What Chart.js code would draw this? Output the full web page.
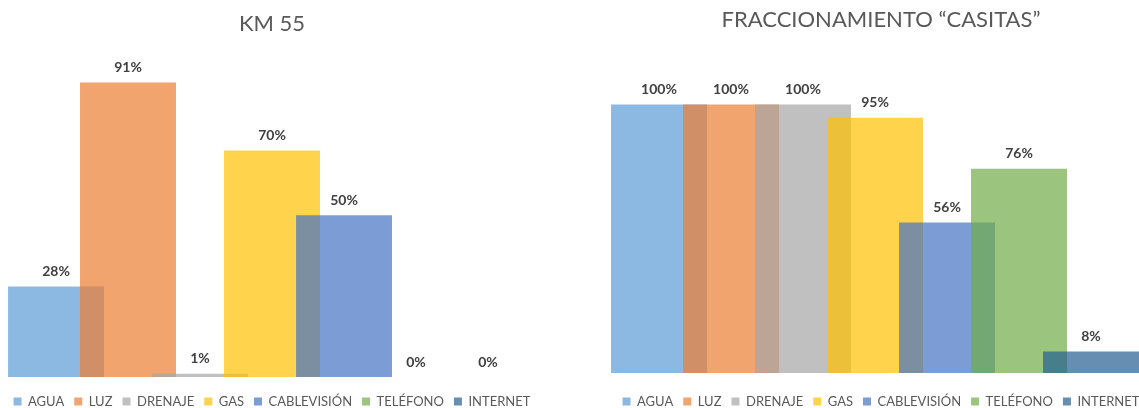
<!DOCTYPE html>
<html>
<head>
<meta charset="utf-8">
<script src="https://cdn.jsdelivr.net/npm/chart.js@4"></script>
<style>
  html, body { margin: 0; padding: 0; background: #fff; overflow: hidden; }
  body { width: 1139px; height: 408px; position: relative; }
  .box { position: absolute; top: 0; }
</style>
</head>
<body>
<div class="box" style="left:0px"><canvas id="kmChart" width="544" height="418"></canvas></div>
<div class="box" style="left:600px"><canvas id="casitasChart" width="562" height="418"></canvas></div>
<script>
var categories = ["AGUA", "LUZ", "DRENAJE", "GAS", "CABLEVISIÓN", "TELÉFONO", "INTERNET"];
var kmValues = [28, 91, 1, 70, 50, 0, 0];
var casitasValues = [100, 100, 100, 95, 56, 76, 8];
var colors = [
    "rgba(91,155,213,0.7)",
    "rgba(237,125,49,0.7)",
    "rgba(165,165,165,0.7)",
    "rgba(255,192,0,0.7)",
    "rgba(68,114,196,0.7)",
    "rgba(112,173,71,0.7)",
    "rgba(37,94,145,0.7)"
];

var fontFamily = "Lato, 'Liberation Sans', sans-serif";

// percent labels above each bar
var valueLabels = {
    id: 'valueLabels',
    afterDatasetsDraw: function(chart) {
        var ctx = chart.ctx;
        ctx.save();
        ctx.font = "bold 14px " + fontFamily;
        ctx.fillStyle = "#404040";
        ctx.textAlign = "center";
        ctx.textBaseline = "middle";
        chart.data.datasets.forEach(function(ds, i) {
            var meta = chart.getDatasetMeta(i);
            meta.data.forEach(function(bar, j) {
                if (ds.data[j] === null) return;
                ctx.fillText(ds.data[j] + "%", bar.x, bar.y - 15);
            });
        });
        ctx.restore();
    }
};

function makeDatasets(values) {
    return categories.map(function(name, i) {
        var data = categories.map(function(c, j) { return j === i ? values[i] : null; });
        return {
            label: name,
            data: data,
            backgroundColor: colors[i],
            borderWidth: 0,
            grouped: false,
            barPercentage: 1.333,
            categoryPercentage: 1,
            order: categories.length - i,
            clip: false
        };
    });
}

// invisible axis that only reserves horizontal room
function spacer(pos, w) {
    return {
        position: pos,
        display: true,
        grid: { display: false },
        border: { display: false },
        ticks: { display: false },
        afterFit: function(s) { s.width = w; }
    };
}

function makeChart(id, title, values, leftW, rightW, titlePad, gap) {
    return new Chart(document.getElementById(id), {
        type: 'bar',
        data: {
            labels: categories,
            datasets: makeDatasets(values)
        },
        options: {
            responsive: false,
            animation: false,
            layout: { padding: 0 },
            scales: {
                x: {
                    display: true,
                    grid: { display: false },
                    border: { display: false },
                    ticks: { display: false },
                    afterFit: function(s) { s.height = gap; }
                },
                y: Object.assign(spacer('left', leftW), { min: 0, max: 100 }),
                yRight: spacer('right', rightW)
            },
            plugins: {
                title: {
                    display: true,
                    text: title,
                    color: "#595959",
                    font: { family: fontFamily, size: 22, weight: 'normal' },
                    padding: titlePad
                },
                legend: {
                    position: 'bottom',
                    labels: {
                        boxWidth: 8,
                        boxHeight: 8,
                        padding: 10,
                        color: "#595959",
                        font: { family: fontFamily, size: 13 },
                        sort: function(a, b) { return a.datasetIndex - b.datasetIndex; }
                    }
                },
                tooltip: { enabled: false }
            }
        },
        plugins: [valueLabels]
    });
}

makeChart('kmChart', "KM 55", kmValues, 20, 20, { top: 11, bottom: 16 }, 8);
makeChart('casitasChart', "FRACCIONAMIENTO \u201CCASITAS\u201D", casitasValues, 23, 35, { top: 7, bottom: 71 }, 12);
</script>
</body>
</html>
